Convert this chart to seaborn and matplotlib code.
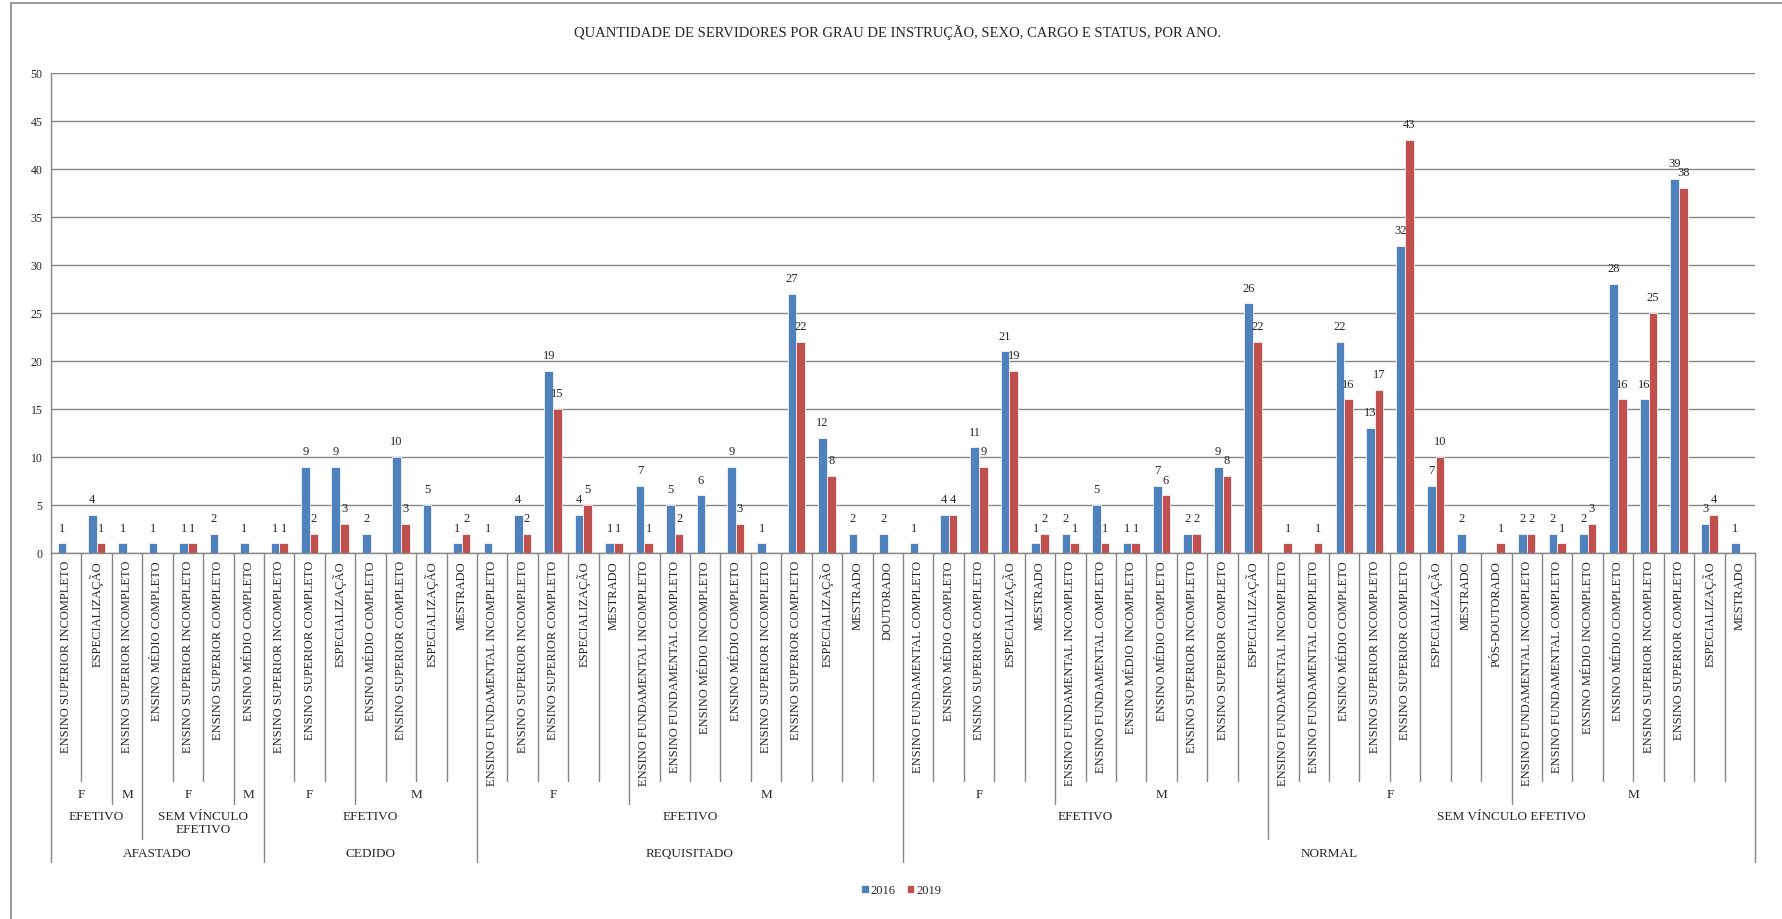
import numpy as np
import pandas as pd
import matplotlib
matplotlib.use("Agg")
import matplotlib.pyplot as plt
from matplotlib.lines import Line2D
import seaborn as sns

# Categorias (grau de instrução) na ordem do eixo
escolaridade = [
    "ENSINO SUPERIOR INCOMPLETO", "ESPECIALIZAÇÃO",
    "ENSINO SUPERIOR INCOMPLETO",
    "ENSINO MÉDIO COMPLETO", "ENSINO SUPERIOR INCOMPLETO", "ENSINO SUPERIOR COMPLETO",
    "ENSINO MÉDIO COMPLETO",
    "ENSINO SUPERIOR INCOMPLETO", "ENSINO SUPERIOR COMPLETO", "ESPECIALIZAÇÃO",
    "ENSINO MÉDIO COMPLETO", "ENSINO SUPERIOR COMPLETO", "ESPECIALIZAÇÃO", "MESTRADO",
    "ENSINO FUNDAMENTAL INCOMPLETO", "ENSINO SUPERIOR INCOMPLETO", "ENSINO SUPERIOR COMPLETO",
    "ESPECIALIZAÇÃO", "MESTRADO",
    "ENSINO FUNDAMENTAL INCOMPLETO", "ENSINO FUNDAMENTAL COMPLETO", "ENSINO MÉDIO INCOMPLETO",
    "ENSINO MÉDIO COMPLETO", "ENSINO SUPERIOR INCOMPLETO", "ENSINO SUPERIOR COMPLETO",
    "ESPECIALIZAÇÃO", "MESTRADO", "DOUTORADO",
    "ENSINO FUNDAMENTAL COMPLETO", "ENSINO MÉDIO COMPLETO", "ENSINO SUPERIOR COMPLETO",
    "ESPECIALIZAÇÃO", "MESTRADO",
    "ENSINO FUNDAMENTAL INCOMPLETO", "ENSINO FUNDAMENTAL COMPLETO", "ENSINO MÉDIO INCOMPLETO",
    "ENSINO MÉDIO COMPLETO", "ENSINO SUPERIOR INCOMPLETO", "ENSINO SUPERIOR COMPLETO",
    "ESPECIALIZAÇÃO",
    "ENSINO FUNDAMENTAL INCOMPLETO", "ENSINO FUNDAMENTAL COMPLETO", "ENSINO MÉDIO COMPLETO",
    "ENSINO SUPERIOR INCOMPLETO", "ENSINO SUPERIOR COMPLETO", "ESPECIALIZAÇÃO", "MESTRADO",
    "PÓS-DOUTORADO",
    "ENSINO FUNDAMENTAL INCOMPLETO", "ENSINO FUNDAMENTAL COMPLETO", "ENSINO MÉDIO INCOMPLETO",
    "ENSINO MÉDIO COMPLETO", "ENSINO SUPERIOR INCOMPLETO", "ENSINO SUPERIOR COMPLETO",
    "ESPECIALIZAÇÃO", "MESTRADO",
]

# Níveis superiores do eixo: (rótulo, nº de categorias)
sexo_grupos = [("F", 2), ("M", 1), ("F", 3), ("M", 1), ("F", 3), ("M", 4),
               ("F", 5), ("M", 9), ("F", 5), ("M", 7), ("F", 8), ("M", 8)]
cargo_grupos = [("EFETIVO", 3), ("SEM VÍNCULO\nEFETIVO", 4), ("EFETIVO", 7),
                ("EFETIVO", 14), ("EFETIVO", 12), ("SEM VÍNCULO EFETIVO", 16)]
status_grupos = [("AFASTADO", 7), ("CEDIDO", 7), ("REQUISITADO", 14), ("NORMAL", 28)]

nan = np.nan
v2016 = [1, 4, 1, 1, 1, 2, 1,
         1, 9, 9, 2, 10, 5, 1,
         1, 4, 19, 4, 1, 7, 5, 6, 9, 1, 27, 12, 2, 2,
         1, 4, 11, 21, 1, 2, 5, 1, 7, 2, 9, 26,
         nan, nan, 22, 13, 32, 7, 2, nan, 2, 2, 2, 28, 16, 39, 3, 1]
v2019 = [nan, 1, nan, nan, 1, nan, nan,
         1, 2, 3, nan, 3, nan, 2,
         nan, 2, 15, 5, 1, 1, 2, nan, 3, nan, 22, 8, nan, nan,
         nan, 4, 9, 19, 2, 1, 1, 1, 6, 2, 8, 22,
         1, 1, 16, 17, 43, 10, nan, 1, 2, 1, 3, 16, 25, 38, 4, nan]
anos = ["2016", "2019"]

titulo = "QUANTIDADE DE SERVIDORES POR GRAU DE INSTRUÇÃO, SEXO, CARGO E STATUS, POR ANO."

azul, vermelho, cinza = "#4F81BD", "#C0504D", "#868686"

sns.set_style("white")
plt.rcParams["font.family"] = ["Liberation Serif", "DejaVu Serif"]

n = len(escolaridade)
df = pd.DataFrame({
    "pos": list(range(n)) * 2,
    "ano": [anos[0]] * n + [anos[1]] * n,
    "valor": v2016 + v2019,
}).dropna()

W, H = 1782, 920
y0, y50 = 554, 74
fig = plt.figure(figsize=(W / 100, H / 100), dpi=100)
ax = fig.add_axes([51 / W, 1 - y0 / H, (1755 - 51) / W, (y0 - y50) / H])

sns.barplot(data=df, x="pos", y="valor", hue="ano", order=list(range(n)),
            hue_order=anos, palette=[azul, vermelho], saturation=1, width=0.57,
            edgecolor="white", linewidth=0.5, ax=ax)

for c in ax.containers:
    ax.bar_label(c, fmt="%g", padding=7, fontsize=9)

ax.set_xlim(-0.5, n - 0.5)
ax.set_ylim(0, 50)
ax.set_yticks(range(0, 51, 5))
ax.set_xticks(range(n))
ax.set_xticklabels(escolaridade, rotation=90, fontsize=9)
ax.tick_params(axis="x", length=0, pad=5)
ax.tick_params(axis="y", length=3, color=cinza, labelsize=8.5, pad=3)
ax.set_xlabel("")
ax.set_ylabel("")
ax.yaxis.grid(True, color=cinza, lw=1.0)
ax.xaxis.grid(False)
ax.set_axisbelow(True)
for s in ["top", "right"]:
    ax.spines[s].set_visible(False)
for s in ["left", "bottom"]:
    ax.spines[s].set_color(cinza)
    ax.spines[s].set_linewidth(1.0)


def frac(ypix):
    return (y0 - ypix) / (y0 - y50)


trans = ax.get_xaxis_transform()

# linhas separadoras do eixo multinível
fim = {}
for b in range(n + 1):
    fim[b] = 782
for grupos, ypix in [(sexo_grupos, 805), (cargo_grupos, 840), (status_grupos, 863)]:
    acc = 0
    fim[0] = ypix
    for _, k in grupos:
        acc += k
        fim[acc] = ypix
for b, ypix in fim.items():
    ax.plot([b - 0.5, b - 0.5], [0, frac(ypix)], transform=trans,
            color=cinza, lw=1.0, clip_on=False)

# rótulos dos níveis superiores
for grupos, ypix in [(sexo_grupos, 789), (cargo_grupos, 811), (status_grupos, 848)]:
    acc = 0
    for rot, k in grupos:
        ax.text(acc + k / 2 - 0.5, frac(ypix), rot, transform=trans, ha="center",
                va="top", fontsize=9.5, linespacing=1.1)
        acc += k

handles, labels = ax.get_legend_handles_labels()
ax.get_legend().remove()
fig.legend(handles, labels, loc="center", bbox_to_anchor=(901 / W, 1 - 891 / H),
           ncol=2, frameon=False, fontsize=9, handlelength=0.6, handleheight=0.6,
           handletextpad=0.15, columnspacing=0.9)

fig.text(898 / W, 1 - 33 / H, titulo, ha="center", va="center", fontsize=10.5)

# moldura do gráfico
fig.add_artist(Line2D([11 / W, 11 / W], [0, 1 - 4 / H], color=cinza, lw=1.2))
fig.add_artist(Line2D([11 / W, 1], [1 - 4 / H, 1 - 4 / H], color=cinza, lw=1.2))

fig.savefig("out.png", dpi=100)
